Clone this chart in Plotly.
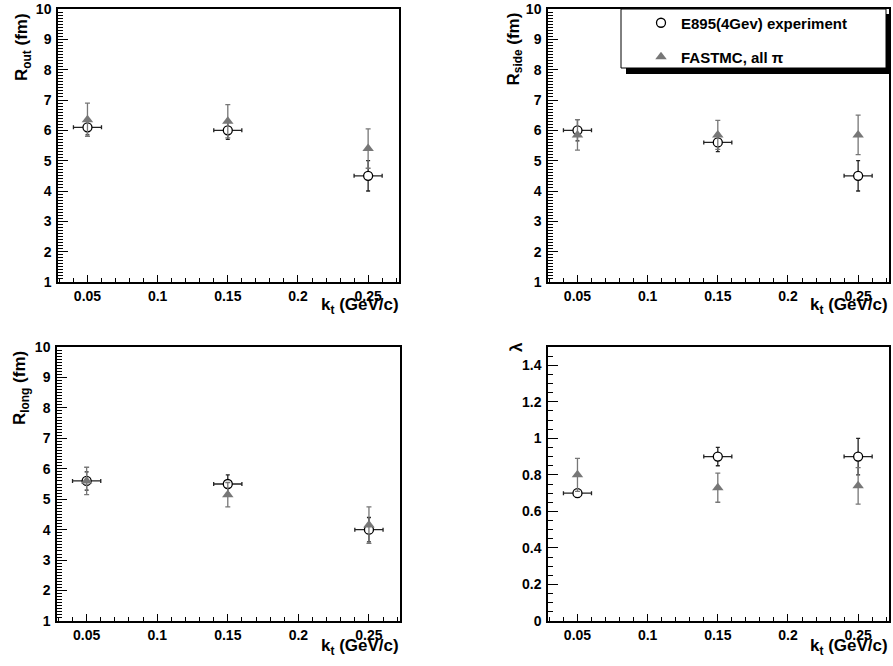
import plotly.graph_objects as go

# ---- data ----
kt = [0.05, 0.15, 0.25]
kt_err = [0.01, 0.01, 0.01]

rout_exp = [6.1, 6.0, 4.5]
rout_exp_err = [0.25, 0.3, 0.5]
rout_mc = [6.35, 6.3, 5.4]
rout_mc_err = [0.55, 0.55, 0.65]

rside_exp = [6.0, 5.6, 4.5]
rside_exp_err = [0.35, 0.3, 0.5]
rside_mc = [5.85, 5.85, 5.85]
rside_mc_err = [0.5, 0.48, 0.65]

rlong_exp = [5.6, 5.5, 4.0]
rlong_exp_err = [0.3, 0.3, 0.4]
rlong_mc = [5.6, 5.15, 4.15]
rlong_mc_err = [0.45, 0.4, 0.6]

lam_exp = [0.7, 0.9, 0.9]
lam_exp_err = [0.02, 0.05, 0.1]
lam_mc = [0.8, 0.73, 0.74]
lam_mc_err = [0.09, 0.08, 0.1]

x_ticks = [0.05, 0.1, 0.15, 0.2, 0.25]
x_ticklabels = ["0.05", "0.1", "0.15", "0.2", "0.25"]
r_ticks = [1, 2, 3, 4, 5, 6, 7, 8, 9, 10]
r_ticklabels = ["1", "2", "3", "4", "5", "6", "7", "8", "9", "10"]
lam_ticks = [0, 0.2, 0.4, 0.6, 0.8, 1.0, 1.2, 1.4]
lam_ticklabels = ["0", "0.2", "0.4", "0.6", "0.8", "1", "1.2", "1.4"]

exp_name = "E895(4Gev) experiment"
mc_name = "FASTMC, all \u03c0"

W, H = 893, 666
FONT = "Liberation Sans"


def px_x(p):
    return p / W


def px_y(p):
    return 1 - p / H


def bold(labels):
    return ["<b>%s</b>" % s for s in labels]


panels = [
    ("x", "y", (58, 399), (9, 282), rout_exp, rout_exp_err, rout_mc, rout_mc_err),
    ("x2", "y2", (548, 889), (9, 282), rside_exp, rside_exp_err, rside_mc, rside_mc_err),
    ("x3", "y3", (57, 400), (347, 621), rlong_exp, rlong_exp_err, rlong_mc, rlong_mc_err),
    ("x4", "y4", (548, 889), (347, 621), lam_exp, lam_exp_err, lam_mc, lam_mc_err),
]

fig = go.Figure()

for i, (xa, ya, xd, yd, e, ee, m, me) in enumerate(panels):
    fig.add_trace(go.Scatter(
        x=kt, y=e, mode="markers", name="<b>%s</b>" % exp_name,
        showlegend=(i == 0), legend="legend", xaxis=xa, yaxis=ya,
        marker=dict(symbol="circle", size=9, color="white",
                    line=dict(color="black", width=1.3)),
        error_x=dict(type="data", array=kt_err, color="#222222", thickness=1.3, width=2),
        error_y=dict(type="data", array=ee, color="#222222", thickness=1.3, width=2),
    ))
    fig.add_trace(go.Scatter(
        x=kt, y=m, mode="markers", name="<b>%s</b>" % mc_name,
        showlegend=(i == 0), legend="legend2", xaxis=xa, yaxis=ya,
        marker=dict(symbol="triangle-up", size=10, color="#777777",
                    line=dict(width=0)),
        error_y=dict(type="data", array=me, color="#777777", thickness=1.3, width=2.5),
    ))

tickfont = dict(family=FONT, size=14, color="black")
legfont = dict(family=FONT, size=15, color="black")

layout = dict(
    width=W, height=H,
    margin=dict(l=0, r=0, t=0, b=0, autoexpand=False),
    paper_bgcolor="white", plot_bgcolor="white",
    showlegend=True,
    legend=dict(
        x=px_x(641), y=px_y(23), xanchor="left", yanchor="middle",
        bgcolor="rgba(0,0,0,0)", borderwidth=0, font=legfont,
    ),
    legend2=dict(
        x=px_x(641), y=px_y(57), xanchor="left", yanchor="middle",
        bgcolor="rgba(0,0,0,0)", borderwidth=0, font=legfont,
    ),
)

for i, (xa, ya, xd, yd, *_rest) in enumerate(panels):
    xn = "xaxis" if xa == "x" else "xaxis" + xa[1:]
    yn = "yaxis" if ya == "y" else "yaxis" + ya[1:]
    is_lam = (i == 3)
    layout[xn] = dict(
        domain=[px_x(xd[0]), px_x(xd[1])], anchor=ya,
        range=[0.029, 0.272], automargin=False,
        tickmode="array", tickvals=x_ticks, ticktext=bold(x_ticklabels),
        showline=True, mirror=True, linecolor="black", linewidth=1.5,
        showgrid=False, zeroline=False,
        ticks="inside", ticklen=7, tickwidth=1.2, tickcolor="black",
        tickfont=tickfont,
        minor=dict(ticks="inside", ticklen=4, tick0=0, dtick=0.01,
                   tickcolor="black", tickwidth=1),
    )
    layout[yn] = dict(
        domain=[px_y(yd[1]), px_y(yd[0])], anchor=xa,
        range=[0, 1.5] if is_lam else [1, 10], automargin=False,
        tickmode="array",
        tickvals=lam_ticks if is_lam else r_ticks,
        ticktext=bold(lam_ticklabels if is_lam else r_ticklabels),
        showline=True, mirror=True, linecolor="black", linewidth=1.5,
        showgrid=False, zeroline=False,
        ticks="inside", ticklen=10, tickwidth=1.2, tickcolor="black",
        tickfont=tickfont, ticklabelstandoff=2,
        minor=dict(ticks="inside", ticklen=5, tick0=0,
                   dtick=0.05 if is_lam else 0.1,
                   tickcolor="black", tickwidth=1),
    )

fig.update_layout(**layout)

title_font = dict(family=FONT, size=17, color="black")
annotations = [
    dict(text="<b>R<sub>out</sub> (fm)</b>", x=px_x(23), y=px_y(11), textangle=-90,
         xanchor="center", yanchor="top"),
    dict(text="<b>R<sub>side</sub> (fm)</b>", x=px_x(514), y=px_y(11), textangle=-90,
         xanchor="center", yanchor="top"),
    dict(text="<b>R<sub>long</sub> (fm)</b>", x=px_x(21), y=px_y(349), textangle=-90,
         xanchor="center", yanchor="top"),
    dict(text="<b>\u03bb</b>", x=px_x(516), y=px_y(347), textangle=-90,
         xanchor="center", yanchor="middle"),
    dict(text="<b>k<sub>t</sub> (GeV/c)</b>", x=px_x(401), y=px_y(306),
         xanchor="right", yanchor="middle"),
    dict(text="<b>k<sub>t</sub> (GeV/c)</b>", x=px_x(890), y=px_y(306),
         xanchor="right", yanchor="middle"),
    dict(text="<b>k<sub>t</sub> (GeV/c)</b>", x=px_x(401), y=px_y(647),
         xanchor="right", yanchor="middle"),
    dict(text="<b>k<sub>t</sub> (GeV/c)</b>", x=px_x(890), y=px_y(647),
         xanchor="right", yanchor="middle"),
]
for a in annotations:
    a.update(xref="paper", yref="paper", showarrow=False, font=title_font)
fig.update_layout(annotations=annotations)

# legend box with ROOT-style shadow
fig.add_shape(type="rect", xref="paper", yref="paper", layer="above",
              x0=px_x(626), x1=px_x(891), y0=px_y(74), y1=px_y(14),
              fillcolor="black", line=dict(width=0))
fig.add_shape(type="rect", xref="paper", yref="paper", layer="above",
              x0=px_x(621), x1=px_x(886), y0=px_y(68), y1=px_y(9),
              fillcolor="white", line=dict(color="black", width=1))

fig.write_html("out.html", config={"displayModeBar": False},
               post_script="document.body.style.margin='0';document.body.style.padding='0';")
